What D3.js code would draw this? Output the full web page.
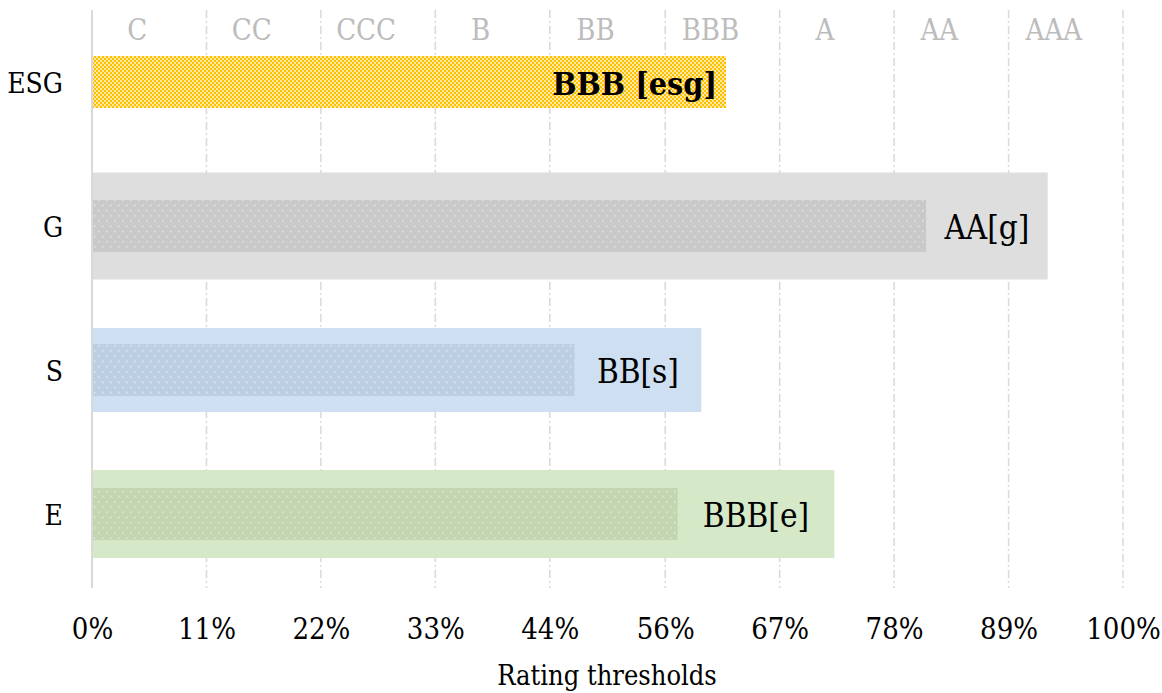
<!DOCTYPE html>
<html>
<head>
<meta charset="utf-8">
<script src="https://cdn.jsdelivr.net/npm/d3@7"></script>
<style>
    body { margin: 0; background: #fff; }
    svg text { font-family: "DejaVu Serif Condensed", "Liberation Serif", serif; font-stretch: condensed; }
</style>
</head>
<body>
<div id="chart"></div>
<script>
const CANVAS = { w: 1162, h: 693 };

// --- DATOS ---
const categories = ["ESG", "G", "S", "E"];
const scoreValues = [0.615, 0.809, 0.468, 0.568];   // barra interior (puntuación)
const rangeValues = [null, 0.927, 0.591, 0.72];     // barra exterior (rango del pilar)
const valueLabels = ["BBB [esg]", "AA[g]", "BB[s]", "BBB[e]"];
const ratingLabels = ["C", "CC", "CCC", "B", "BB", "BBB", "A", "AA", "AAA"];
const tickValues = [0, 0.111, 0.222, 0.333, 0.444, 0.556, 0.667, 0.778, 0.889, 1];
const tickLabels = ["0%", "11%", "22%", "33%", "44%", "56%", "67%", "78%", "89%", "100%"];

// --- ESTILO ---
const outerColor = { G: "#dedede", S: "#cddff0", E: "#d5e8c7" };
const innerColor = { ESG: "#ffc000", G: "#c9c9c9", S: "#bccfe2", E: "#c3d6b2" };
const outerThick = { G: 107, S: 84, E: 88 };
const innerThick = 52;

const x = d3.scaleLinear().domain([0, 1]).range([92, 1123]);
const y = d3.scaleBand().domain(categories).range([10, 586]);
const cy = d => y(d) + y.bandwidth() / 2;

const svg = d3.select("#chart")
    .append("svg")
    .attr("width", CANVAS.w)
    .attr("height", CANVAS.h);

// patrones
const defs = svg.append("defs");

const checker = defs.append("pattern")
    .attr("id", "checker")
    .attr("patternUnits", "userSpaceOnUse")
    .attr("width", 4).attr("height", 4);
checker.append("rect").attr("width", 4).attr("height", 4).attr("fill", "#ffc000");
checker.append("rect").attr("x", 0).attr("y", 0).attr("width", 2).attr("height", 2).attr("fill", "#fff").attr("opacity", 0.65);
checker.append("rect").attr("x", 2).attr("y", 2).attr("width", 2).attr("height", 2).attr("fill", "#fff").attr("opacity", 0.65);

categories.slice(1).forEach(c => {
    const p = defs.append("pattern")
        .attr("id", "dots-" + c)
        .attr("patternUnits", "userSpaceOnUse")
        .attr("width", 8).attr("height", 10.4);
    p.append("rect").attr("width", 8).attr("height", 10.4).attr("fill", innerColor[c]);
    p.append("rect").attr("x", 2).attr("y", 2).attr("width", 1.4).attr("height", 1.4).attr("fill", "#fff").attr("opacity", 0.6);
    p.append("rect").attr("x", 6).attr("y", 7.2).attr("width", 1.4).attr("height", 1.4).attr("fill", "#fff").attr("opacity", 0.6);
});

// --- REJILLA ---
svg.append("g")
    .selectAll("line")
    .data(tickValues.slice(1))
    .join("line")
    .attr("x1", d => x(d)).attr("x2", d => x(d))
    .attr("y1", 10).attr("y2", 588)
    .attr("stroke", "#d9d9d9")
    .attr("stroke-width", 1.5)
    .attr("stroke-dasharray", "8,3,2,3");

// --- BARRAS ---
const rows = categories.map((c, i) => ({
    cat: c, score: scoreValues[i], range: rangeValues[i], label: valueLabels[i]
}));

svg.append("g")
    .selectAll("rect")
    .data(rows.filter(d => d.range != null))
    .join("rect")
    .attr("x", x(0))
    .attr("y", d => cy(d.cat) - outerThick[d.cat] / 2)
    .attr("width", d => x(d.range) - x(0))
    .attr("height", d => outerThick[d.cat])
    .attr("fill", d => outerColor[d.cat]);

svg.append("g")
    .selectAll("rect")
    .data(rows)
    .join("rect")
    .attr("x", x(0))
    .attr("y", d => cy(d.cat) - innerThick / 2)
    .attr("width", d => x(d.score) - x(0))
    .attr("height", innerThick)
    .attr("fill", d => d.cat === "ESG" ? "url(#checker)" : `url(#dots-${d.cat})`);

// eje cero
svg.append("line")
    .attr("x1", x(0)).attr("x2", x(0))
    .attr("y1", 10).attr("y2", 588)
    .attr("stroke", "#d9d9d9")
    .attr("stroke-width", 2);

// --- ETIQUETAS ---
svg.append("g")
    .selectAll("text")
    .data(rows)
    .join("text")
    .attr("x", d => d.range == null ? x(d.score) - 9 : (x(d.score) + x(d.range)) / 2)
    .attr("y", d => cy(d.cat) + 13)
    .attr("text-anchor", d => d.range == null ? "end" : "middle")
    .attr("font-size", d => d.range == null ? 32 : 33)
    .attr("font-weight", d => d.range == null ? "bold" : "normal")
    .attr("fill", "#000")
    .text(d => d.label);

// categorías
svg.append("g")
    .selectAll("text")
    .data(categories)
    .join("text")
    .attr("x", 63)
    .attr("y", d => cy(d) + 11)
    .attr("text-anchor", "end")
    .attr("font-size", 28)
    .attr("fill", "#000")
    .text(d => d);

// calificaciones arriba
svg.append("g")
    .selectAll("text")
    .data(ratingLabels)
    .join("text")
    .attr("x", (d, i) => (x(tickValues[i]) + x(tickValues[i + 1])) / 2 - 12)
    .attr("y", 40)
    .attr("text-anchor", "middle")
    .attr("font-size", 29)
    .attr("fill", "#bcbcbc")
    .text(d => d);

// eje X
const xAxis = d3.axisBottom(x)
    .tickValues(tickValues)
    .tickFormat((d, i) => tickLabels[i])
    .tickSize(0)
    .tickPadding(0);

const axisG = svg.append("g")
    .attr("transform", "translate(0,639)")
    .call(xAxis);
axisG.select(".domain").remove();
axisG.selectAll("text")
    .attr("dy", 0)
    .attr("font-size", 29)
    .attr("fill", "#000")
    .style("font-family", "'DejaVu Serif Condensed', 'Liberation Serif', serif");

svg.append("text")
    .attr("x", 607)
    .attr("y", 685)
    .attr("text-anchor", "middle")
    .attr("font-size", 27)
    .attr("fill", "#000")
    .text("Rating thresholds");
</script>
</body>
</html>
